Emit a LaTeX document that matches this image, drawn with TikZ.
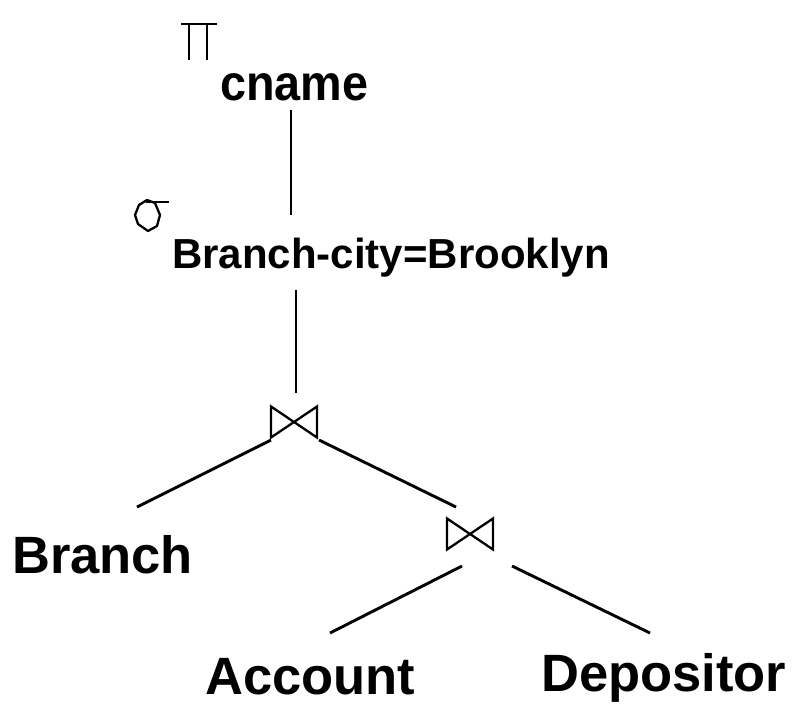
\documentclass[tikz,border=0pt]{standalone}
\usepackage{fontspec}
\setmainfont{Liberation Sans}
\begin{document}
\begin{tikzpicture}[x=1pt,y=-1pt,
  lbl/.style={inner sep=0pt, anchor=base west, font=\bfseries\fontsize{52.5}{60}\selectfont},
  cond/.style={inner sep=0pt, anchor=base west, font=\bfseries\fontsize{42}{50}\selectfont},
  edge/.style={line width=2.9pt},
  sym/.style={line width=2.3pt, line join=miter}]
\useasboundingbox (0,0) rectangle (794,705);

% projection: pi symbol and attribute
\draw[sym] (181,24) -- (217,24) (189,24) -- (189,60) (207,24) -- (207,60);
\node[lbl, font=\bfseries\fontsize{50}{58}\selectfont, xscale=0.935] (cname) at (220,100) {cname};

% selection: sigma symbol and condition
\draw[sym, line join=round] (147,200) -- (139,205) -- (135,215) -- (138,224) -- (148,231)
  -- (157,226) -- (160,215) -- (155,203) -- cycle;
\draw[sym] (146,202) -- (169,202);
\node[cond] (sel) at (172,268) {Branch-city=Brooklyn};

% joins
\coordinate (j1) at (294,422);
\coordinate (j2) at (470,534);
\foreach \j in {j1,j2}
  \draw[sym] (\j) ++(-23,-15.5) -- ++(0,31) -- ++(46,-31) -- ++(0,31) -- cycle;

% leaf relations
\node[lbl] (branch) at (12,573) {Branch};
\node[lbl] (account) at (205,694) {Account};
\node[lbl] (depositor) at (541,691) {Depositor};

% connector end points
\coordinate (c1) at (291,110);
\coordinate (c2) at (291,215);
\coordinate (s1) at (296,290);
\coordinate (s2) at (296,393);
\coordinate (j1l) at (271,440);
\coordinate (j1r) at (319,440);
\coordinate (bl) at (137,507);
\coordinate (j2t) at (456,507);
\coordinate (j2l) at (462,566);
\coordinate (j2r) at (512,566);
\coordinate (al) at (330,633);
\coordinate (dl) at (650,633);

\draw[edge] (c1) -- (c2);
\draw[edge] (s1) -- (s2);
\draw[edge] (j1l) -- (bl);
\draw[edge] (j1r) -- (j2t);
\draw[edge] (j2l) -- (al);
\draw[edge] (j2r) -- (dl);
\end{tikzpicture}
\end{document}
